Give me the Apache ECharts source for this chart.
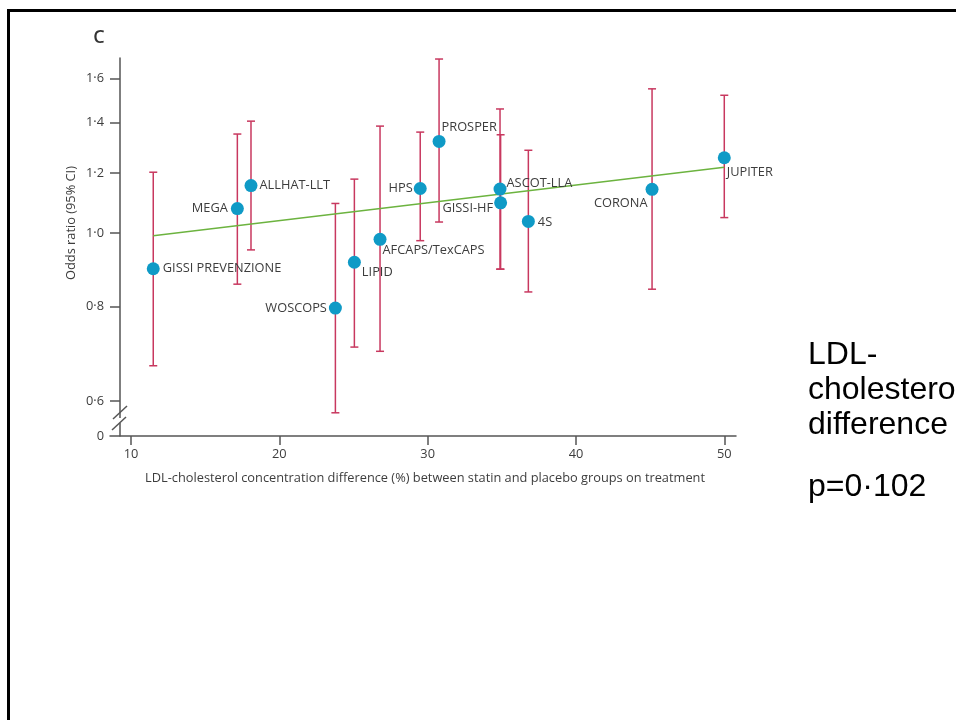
<!DOCTYPE html>
<html>
<head>
<meta charset="utf-8">
<script src="https://cdn.jsdelivr.net/npm/echarts@6/dist/echarts.min.js"></script>
<style>
html,body{margin:0;padding:0;background:#fff;}
#chart{width:956px;height:720px;}
</style>
</head>
<body>
<div id="chart"></div>
<script>
// ---- data ----
const trials   = ['GISSI PREVENZIONE','MEGA','ALLHAT-LLT','WOSCOPS','LIPID','AFCAPS/TexCAPS','HPS','PROSPER','ASCOT-LLA','GISSI-HF','4S','CORONA','JUPITER'];
const ldlDiff  = [11.5, 17.17, 18.09, 23.78, 25.06, 26.79, 29.5, 30.77, 34.88, 34.92, 36.79, 45.13, 50.0];
const oddsRatio= [0.897, 1.077, 1.155, 0.796, 0.915, 0.981, 1.145, 1.321, 1.143, 1.096, 1.036, 1.142, 1.257];
const ciLow    = [0.668, 0.856, 0.950, 0.579, 0.707, 0.698, 0.977, 1.034, 0.896, 0.896, 0.836, 0.843, 1.048];
const ciHigh   = [1.203, 1.351, 1.405, 1.094, 1.178, 1.384, 1.359, 1.697, 1.458, 1.348, 1.286, 1.550, 1.520];
const regX     = [11.5, 50.0];
const regOR    = [0.992, 1.221];
const yTicks   = [0.6, 0.8, 1.0, 1.2, 1.4, 1.6];
const xTicks   = [10, 20, 30, 40, 50];

// ---- label styling (placement only) ----
const labelPlace = [
  {position:'right', distance:3, offset:[0,0]},
  {position:'left',  distance:3, offset:[0,0]},
  {position:'right', distance:2, offset:[0,0]},
  {position:'left',  distance:2, offset:[0,0]},
  {position:'right', distance:1, offset:[0,10]},
  {position:'right', distance:0, offset:[-4,11]},
  {position:'left',  distance:1, offset:[0,0]},
  {position:'right', distance:0, offset:[-4,-14]},
  {position:'right', distance:0, offset:[0,-6]},
  {position:'left',  distance:1, offset:[0,5]},
  {position:'right', distance:3, offset:[0,1]},
  {position:'left',  distance:0, offset:[2,14]},
  {position:'right', distance:0, offset:[-4,15]}
];

const L = Math.log;
const yMin = -0.617, yMax = 0.532;
const textColor = '#3d3d3d';
const fontFam = '"Open Sans", sans-serif';
const fs = 12.8;

const pointData = trials.map((t,i)=>({
  name:t,
  value:[ldlDiff[i], L(oddsRatio[i])],
  label:Object.assign({show:true, formatter:t}, labelPlace[i])
}));
const barData = trials.map((t,i)=>[ldlDiff[i], L(ciLow[i]), L(ciHigh[i])]);
const regData = regX.map((x,i)=>[x, L(regOR[i])]);

const chart = echarts.init(document.getElementById('chart'), null, {renderer:'canvas'});
const option = {
  animation:false,
  backgroundColor:'#fff',
  grid:{left:110, top:58, width:626, height:378},
  xAxis:{
    type:'value', min:8.584, max:50.79,
    axisLine:{onZero:false, lineStyle:{color:'#555', width:1.5}},
    axisTick:{show:true, length:9, customValues:xTicks, lineStyle:{color:'#555', width:1.5}},
    axisLabel:{customValues:xTicks, margin:12, color:textColor, fontSize:fs, fontFamily:fontFam},
    splitLine:{show:false}
  },
  yAxis:{
    type:'value', min:yMin, max:yMax, offset:-10,
    axisLine:{onZero:false, lineStyle:{color:'#555', width:1.5}},
    axisTick:{show:true, length:10, customValues:yTicks.map(v=>L(v)), lineStyle:{color:'#555', width:1.5}},
    axisLabel:{
      customValues:yTicks.map(v=>L(v)).concat([yMin]),
      margin:16, color:textColor, fontSize:fs, fontFamily:fontFam,
      formatter:function(v){
        if (Math.abs(v - yMin) < 1e-6) return '0';
        return Math.exp(v).toFixed(1).replace('.', '·');
      }
    },
    splitLine:{show:false}
  },
  series:[
    {
      type:'custom', z:2,
      data:barData,
      encode:{x:0, y:[1,2]},
      renderItem:function(params, api){
        const x = api.value(0);
        const lo = api.coord([x, api.value(1)]);
        const hi = api.coord([x, api.value(2)]);
        const cw = 4;
        const st = {stroke:'#c8385f', lineWidth:1.5};
        return {type:'group', children:[
          {type:'line', shape:{x1:lo[0], y1:lo[1], x2:hi[0], y2:hi[1]}, style:st},
          {type:'line', shape:{x1:lo[0]-cw, y1:lo[1], x2:lo[0]+cw, y2:lo[1]}, style:st},
          {type:'line', shape:{x1:hi[0]-cw, y1:hi[1], x2:hi[0]+cw, y2:hi[1]}, style:st}
        ]};
      }
    },
    {
      type:'line', z:3, data:regData, showSymbol:false, symbol:'none',
      lineStyle:{color:'#6cb33f', width:1.5}
    },
    {
      type:'scatter', z:4, data:pointData, symbolSize:13,
      itemStyle:{color:'#0f9ac6', opacity:1},
      label:{color:textColor, fontSize:fs, fontFamily:fontFam}
    }
  ],
  graphic:[
    // slide frame
    {type:'line', shape:{x1:7, y1:10.5, x2:956, y2:10.5}, style:{stroke:'#000', lineWidth:3}},
    {type:'line', shape:{x1:8.5, y1:9, x2:8.5, y2:720}, style:{stroke:'#000', lineWidth:3}},
    // panel letter
    {type:'text', x:99, y:38, style:{text:'C', fill:'#333', font:'600 18px "Open Sans", sans-serif', align:'center', verticalAlign:'middle'}},
    // y axis name
    {type:'text', x:71, y:223, rotation:Math.PI/2, style:{text:'Odds ratio (95% CI)', fill:textColor, font:fs+'px "Open Sans", sans-serif', align:'center', verticalAlign:'middle'}},
    // x axis name
    {type:'text', x:425, y:478, style:{text:'LDL-cholesterol concentration difference (%) between statin and placebo groups on treatment', fill:textColor, font:fs+'px "Open Sans", sans-serif', align:'center', verticalAlign:'middle'}},
    // axis break
    {type:'rect', shape:{x:117, y:418, width:6, height:5}, style:{fill:'#fff'}, z:100},
    {type:'line', shape:{x1:113, y1:419, x2:127, y2:406}, style:{stroke:'#555', lineWidth:1.5}, z:101},
    {type:'line', shape:{x1:112, y1:430, x2:126, y2:417}, style:{stroke:'#555', lineWidth:1.5}, z:101},
    // slide text
    {type:'text', x:808, y:355, style:{text:'LDL-', fill:'#000', font:'32px "Liberation Sans", Arial, sans-serif', verticalAlign:'middle'}},
    {type:'text', x:808, y:390, style:{text:'cholesterol', fill:'#000', font:'32px "Liberation Sans", Arial, sans-serif', verticalAlign:'middle'}},
    {type:'text', x:808, y:425, style:{text:'difference', fill:'#000', font:'32px "Liberation Sans", Arial, sans-serif', verticalAlign:'middle'}},
    {type:'text', x:808, y:487, style:{text:'p=0·102', fill:'#000', font:'32px "Liberation Sans", Arial, sans-serif', verticalAlign:'middle'}}
  ]
};
chart.setOption(option);
</script>
</body>
</html>
